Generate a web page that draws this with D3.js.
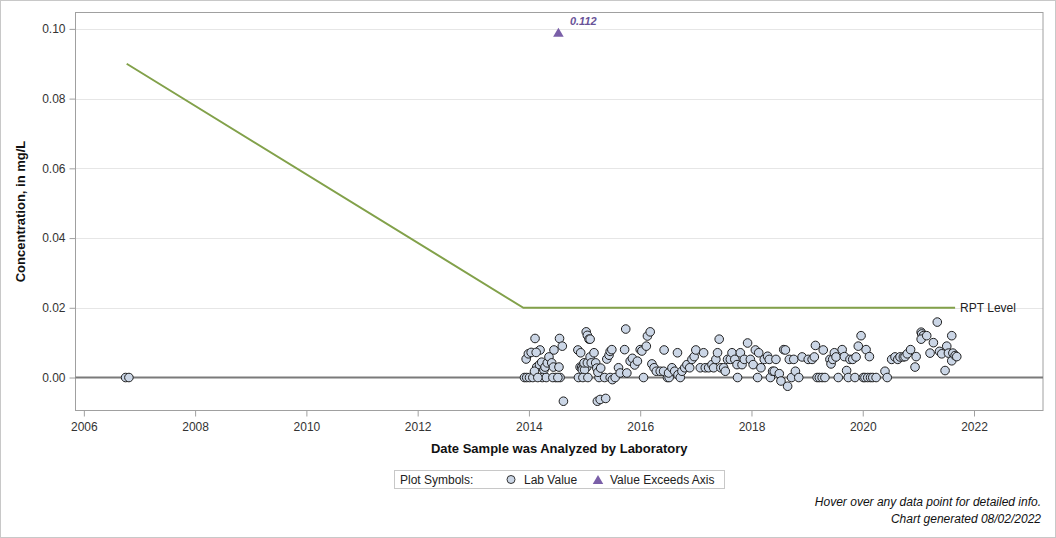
<!DOCTYPE html>
<html><head><meta charset="utf-8">
<script src="https://cdn.jsdelivr.net/npm/d3@7"></script>
<style>
html,body{margin:0;padding:0;background:#fff;}
svg{display:block;font-family:"Liberation Sans",Arial,sans-serif;}
</style></head>
<body>
<svg id="c" width="1056" height="538"></svg>
<script>
// ---- data (decimal year, mg/L) ----
const labYears = [
 2006.75,2006.81,
 2013.92,2013.96,2014.01,2014.07,2014.11,2013.95,2013.99,2014.04,2014.20,2014.13,2014.14,2014.10,2014.19,2014.23,2014.27,2014.24,2014.31,2014.29,2014.33,2014.36,2014.41,2014.45,2014.44,2014.48,2014.54,2014.56,2014.55,2014.60,2014.62,2014.16,2014.43,2014.52,
 2015.03,2015.05,2015.08,2015.10,2014.88,2014.93,2014.89,2014.92,2014.95,2014.98,2015.01,2015.04,2014.96,2015.00,2014.99,2015.05,2015.10,2015.12,2015.17,2014.97,2015.06,2015.20,2015.22,2015.26,2015.24,2015.29,2015.36,2015.40,2015.44,2015.46,2015.49,2015.23,2015.28,2015.38,2015.46,2015.50,2015.55,2015.61,2015.64,2015.72,2015.74,2015.76,2015.82,2015.86,2015.90,2015.95,2016.00,
 2016.03,2016.06,2016.11,2016.13,2016.18,2016.21,2016.25,2016.29,2016.36,2016.42,2016.43,2016.49,2016.52,2016.51,2016.57,2016.62,2016.67,2016.68,2016.72,2016.75,2016.80,2016.84,2016.89,2016.93,2016.97,2017.00,
 2017.08,2017.14,2017.17,2017.23,2017.29,2017.32,2017.36,2017.39,2017.42,2017.45,2017.50,2017.53,2017.57,2017.62,2017.65,2017.70,2017.75,2017.74,2017.80,2017.83,2017.87,2017.93,2017.98,2018.03,2018.07,2018.11,2018.13,2018.17,2018.23,2018.29,2018.32,2018.34,2018.38,
 2018.44,2018.41,2018.50,2018.53,2018.58,2018.61,2018.65,2018.68,2018.72,2018.76,2018.79,2018.85,2018.91,2019.02,2019.09,2019.13,2019.15,2019.18,2019.22,2019.27,2019.32,2019.29,2019.41,2019.43,2019.46,2019.49,2019.52,2019.56,
 2019.63,2019.67,2019.71,2019.74,2019.77,2019.82,2019.86,2019.88,2019.92,2019.97,2020.06,2020.12,2020.01,2020.04,2020.09,2020.14,2020.18,2020.24,2020.40,2020.44,2020.52,2020.58,2020.63,2020.67,2020.73,
 2020.76,2020.80,2020.86,2020.94,2020.96,2021.05,2021.06,2021.09,2021.05,2021.15,2021.21,2021.27,2021.34,2021.38,2021.42,2021.48,2021.51,2021.54,2021.60,2021.62,2021.60,2021.66,2021.69
];
const labValues = [
 0,0,
 0,0,0,0,0.0112,0.0053,0.0068,0.0072,0.0079,0.0072,0.0030,0.0018,0.0037,0.0044,0.0022,0,0,0.0030,0.0042,0.0059,0.0042,0.0079,0.0030,0,0.0030,0,0.0112,0.0090,-0.0068,0,0,0,
 0.0131,0.0121,0.0110,0.0110,0.0079,0.0071,0,0.0030,0.0030,0.0030,0.0030,0.0030,0.0022,0.0022,0.0042,0.0042,0.0059,0.0042,0.0071,0,0,0.0042,0.0027,0,0.0015,0.0027,0,0.0053,0.0064,0.0075,0.0080,-0.0068,-0.0063,-0.0060,0,-0.0006,0,0.0028,0.0013,0.0080,0.0139,0.0013,0.0047,0.0055,0.0036,0.0047,0.0080,
 0.0076,0,0.0090,0.0119,0.0131,0.0039,0.0028,0.0018,0.0018,0.0018,0.0079,0,0,0.0013,0.0028,0.0018,0.0071,0.0008,0,0.0018,0.0028,0.0037,0.0028,0.0052,0.0060,0.0079,
 0.0028,0.0071,0.0028,0.0028,0.0037,0.0028,0.0052,0.0071,0.0110,0.0028,0.0028,0.0018,0.0052,0.0052,0.0071,0.0052,0,0.0037,0.0071,0.0037,0.0052,0.0099,0.0052,0.0037,0.0079,0,0.0071,0.0028,0.0052,0.0061,0.0052,0,0.0018,
 0.0052,0.0018,0.0011,-0.0010,0.0080,0.0079,-0.0025,0.0052,0,0.0052,0.0018,0,0.0059,0.0052,0.0052,0.0059,0.0092,0,0,0,0,0.0079,0.0052,0.0039,0.0052,0.0071,0.0059,0,
 0.0080,0.0060,0.0020,0,0.0052,0.0052,0,0.0059,0.0090,0.0120,0.0080,0.0060,0,0,0,0,0,0,0.0018,0,0.0052,0.0059,0.0052,0.0059,0.0059,
 0.0060,0.0068,0.0080,0.0030,0.0060,0.0130,0.0125,0.0120,0.0110,0.0120,0.0070,0.0100,0.0159,0.0075,0.0068,0.0020,0.0090,0.0070,0.0120,0.0070,0.0048,0.0063,0.0060
];
const exceedYears = [2014.53];
const exceedPlotted = [0.0986];
const exceedLabels = ["0.112"];
const rptYears = [2006.77, 2013.90, 2021.66];
const rptValues = [0.090, 0.020, 0.020];
const xTicks = [2006,2008,2010,2012,2014,2016,2018,2020,2022];
const yTicks = [0.00,0.02,0.04,0.06,0.08,0.10];

// ---- layout ----
const svg = d3.select("#c");
const L = 75.5, R = 1043, T = 12.5, B = 410.5;
const x = d3.scaleLinear().domain([2005.85, 2023.24]).range([L, R]);
const y = d3.scaleLinear().domain([-0.00946, 0.1047]).range([B, T]);

// outer border
svg.append("rect").attr("x",0.5).attr("y",0.5).attr("width",1055).attr("height",537)
  .attr("fill","#fff").attr("stroke","#c8c8c8");

// grid
svg.append("g").selectAll("line").data(yTicks.filter(d=>d!==0)).join("line")
  .attr("x1",L).attr("x2",R).attr("y1",d=>Math.round(y(d))+0.5).attr("y2",d=>Math.round(y(d))+0.5)
  .attr("stroke","#e6e6e6");

// frame
svg.append("rect").attr("x",L).attr("y",T).attr("width",R-L).attr("height",B-T)
  .attr("fill","none").attr("stroke","#a0a0a0");

// axes
const xa = svg.append("g").attr("transform",`translate(0,${B})`)
  .call(d3.axisBottom(x).tickValues(xTicks).tickFormat(d3.format("d")).tickSize(6).tickPadding(4));
const ya = svg.append("g").attr("transform",`translate(${L},0)`)
  .call(d3.axisLeft(y).tickValues(yTicks).tickFormat(d3.format(".2f")).tickSize(6).tickPadding(4));
[xa,ya].forEach(g=>{
  g.select(".domain").remove();
  g.selectAll(".tick line").attr("stroke","#a0a0a0");
  g.selectAll(".tick text").attr("fill","#333").style("font-size","12px").style("font-family","'Liberation Sans',Arial,sans-serif");
});
xa.selectAll(".tick text").attr("dy","0.9em");

// zero reference line
svg.append("line").attr("x1",L).attr("x2",R).attr("y1",y(0)).attr("y2",y(0))
  .attr("stroke","#7a7a7a").attr("stroke-width",2);

// RPT line
const line = d3.line().x(d=>x(d[0])).y(d=>y(d[1]));
svg.append("path").datum(rptYears.map((d,i)=>[d,rptValues[i]]))
  .attr("d",line).attr("fill","none").attr("stroke","#82a14a").attr("stroke-width",2);
svg.append("text").attr("x",x(rptYears[2])+5).attr("y",y(0.02)+4.5)
  .attr("font-size","12px").attr("fill","#222").text("RPT Level");

// lab points
svg.append("g").selectAll("circle").data(labYears.map((d,i)=>[d,labValues[i]])).join("circle")
  .attr("cx",d=>x(d[0])).attr("cy",d=>y(d[1])).attr("r",4.3)
  .attr("fill","#cbd6e6").attr("stroke","#1e1e1e").attr("stroke-width",1);

// exceeds-axis triangles
const tri = d3.symbol().type(d3.symbolTriangle).size(48);
const ex = svg.append("g").selectAll("g").data(exceedYears.map((d,i)=>({x:d,v:exceedPlotted[i],l:exceedLabels[i]}))).join("g")
  .attr("transform",d=>`translate(${x(d.x)},${y(d.v)})`);
ex.append("path").attr("d",tri).attr("fill","#7a5fa8");
ex.append("text").attr("x",11.5).attr("y",-9).attr("font-size","11px").attr("font-weight","bold")
  .attr("font-style","italic").attr("fill","#6a5399").text(d=>d.l);

// axis titles
svg.append("text").attr("x",(L+R)/2).attr("y",453).attr("text-anchor","middle")
  .attr("font-size","13px").attr("font-weight","bold").attr("fill","#111").text("Date Sample was Analyzed by Laboratory");
svg.append("text").attr("transform",`translate(25,${(T+B)/2}) rotate(-90)`).attr("text-anchor","middle")
  .attr("font-size","13px").attr("font-weight","bold").attr("fill","#111").text("Concentration, in mg/L");

// legend
const lg = svg.append("g");
lg.append("rect").attr("x",394.5).attr("y",470.5).attr("width",330).attr("height",18)
  .attr("fill","#fff").attr("stroke","#c8c8c8");
lg.append("text").attr("x",400).attr("y",484).attr("font-size","12px").attr("fill","#222").text("Plot Symbols:");
lg.append("circle").attr("cx",511).attr("cy",479.5).attr("r",4).attr("fill","#cbd6e6").attr("stroke","#333");
lg.append("text").attr("x",524).attr("y",484).attr("font-size","12px").attr("fill","#222").text("Lab Value");
lg.append("path").attr("transform","translate(598,481)").attr("d",d3.symbol().type(d3.symbolTriangle).size(48)).attr("fill","#7a5fa8");
lg.append("text").attr("x",610).attr("y",484).attr("font-size","12px").attr("fill","#222").text("Value Exceeds Axis");

// footer
svg.append("text").attr("x",1041).attr("y",506).attr("text-anchor","end").attr("font-size","12px")
  .attr("font-style","italic").attr("fill","#111").text("Hover over any data point for detailed info.");
svg.append("text").attr("x",1041).attr("y",523).attr("text-anchor","end").attr("font-size","12px")
  .attr("font-style","italic").attr("fill","#111").text("Chart generated 08/02/2022");
</script>
</body></html>
